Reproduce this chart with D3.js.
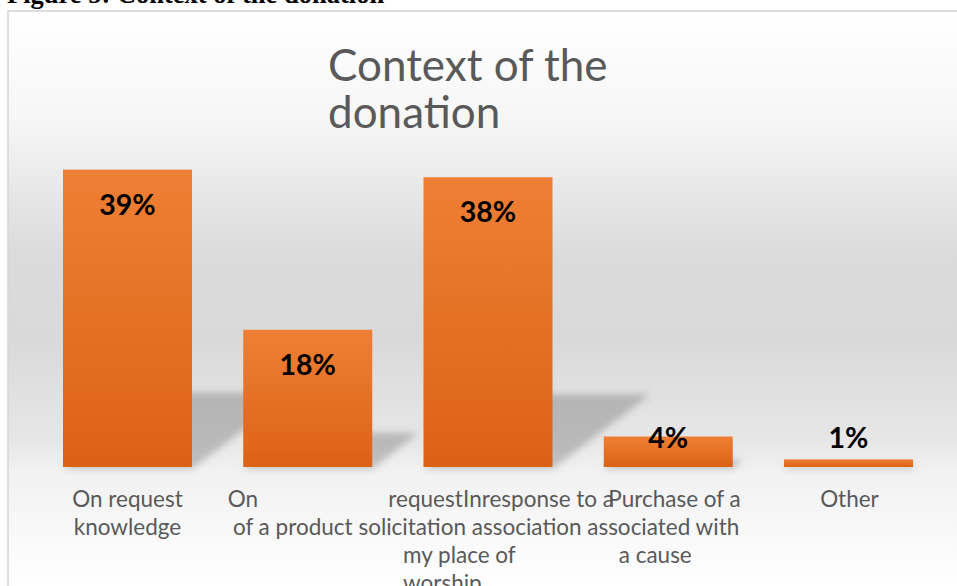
<!DOCTYPE html>
<html>
<head>
<meta charset="utf-8">
<script src="https://cdn.jsdelivr.net/npm/d3@7"></script>
<style>
  html, body { margin: 0; padding: 0; background: #ffffff; overflow: hidden; }
  svg { display: block; }
  text { white-space: pre; }
</style>
</head>
<body>
<svg id="chart" width="957" height="586"></svg>
<script>
// ---- data ----
const categories = ["On request knowledge", "On request of a product",
  "In response to a solicitation association my place of worship",
  "Purchase of a product associated with a cause", "Other"];
const values = [39, 18, 38, 4, 1];
const valueLabels = ["39%", "18%", "38%", "4%", "1%"];
const chartTitleLines = ["Context of the", "donation"];
const figureCaption = "Figure 5: Context of the donation";

// ---- category label pieces: category index, line, text ----
const labelPieces = [
  [0, 0, "On request"], [0, 1, "knowledge"],
  [1, 0, "On"], [1, 0, "request"], [1, 1, "of a product"],
  [2, 0, "Inresponse to a"], [2, 1, "solicitation association"],
  [2, 2, "my place of"], [2, 3, "worship"],
  [3, 0, "Purchase of a"], [3, 1, "associated with"], [3, 2, "a cause"],
  [4, 0, "Other"]
];
// placement of each piece relative to its band centre (anchor, dx)
const labelPlacement = [
  ["middle", 0], ["middle", 0],
  ["start", -80], ["end", 155], ["middle", -15],
  ["start", -25], ["middle", -18],
  ["start", -85], ["start", -85],
  ["start", -60], ["middle", -5], ["middle", -13],
  ["middle", 1]
];

const svg = d3.select("#chart");

const defs = svg.append("defs");

// chart area background: soft vertical grey gradient
const bg = defs.append("linearGradient").attr("id", "bgGrad")
  .attr("gradientUnits", "userSpaceOnUse")
  .attr("x1", 0).attr("y1", 11).attr("x2", 0).attr("y2", 586);
[[0, "#ffffff"], [0.19, "#f6f6f6"], [0.42, "#dbdbdb"], [0.57, "#d9d9d9"],
 [0.75, "#e7e7e7"], [0.80, "#f1f1f1"], [1, "#ffffff"]]
  .forEach(([o, c]) => bg.append("stop").attr("offset", o).attr("stop-color", c));

// bar fill gradient
const bf = defs.append("linearGradient").attr("id", "barGrad")
  .attr("x1", 0).attr("y1", 0).attr("x2", 0).attr("y2", 1);
bf.append("stop").attr("offset", 0).attr("stop-color", "#ef7f35");
bf.append("stop").attr("offset", 1).attr("stop-color", "#db6214");

// blur for cast shadows
defs.append("filter").attr("id", "shadowBlur")
  .attr("x", "-30%").attr("y", "-30%").attr("width", "160%").attr("height", "160%")
  .append("feGaussianBlur").attr("stdDeviation", 3.5);

// figure caption (partly above the page edge)
svg.append("text")
  .attr("x", 7).attr("y", 3)
  .attr("font-family", "'Liberation Serif', 'Times New Roman', serif")
  .attr("font-weight", "bold").attr("font-size", 26.5)
  .attr("fill", "#000")
  .text(figureCaption);

// chart frame
svg.append("rect")
  .attr("x", 8).attr("y", 11).attr("width", 1000).attr("height", 620)
  .attr("fill", "url(#bgGrad)")
  .attr("stroke", "#d6d6d6").attr("stroke-width", 1.6);

// scales
const x = d3.scaleBand().domain(categories)
  .range([37.4, 938.6]).paddingInner(0.2843).paddingOuter(0.142);
const y = d3.scaleLinear().domain([0, 40]).range([467, 162]);
const y0 = y(0);

// title
const title = svg.append("text")
  .attr("font-family", "Lato, 'Open Sans', sans-serif")
  .attr("font-size", 44).attr("fill", "#595959");
chartTitleLines.forEach((t, i) => {
  title.append("tspan").attr("x", 328).attr("y", 80.5 + i * 47).text(t);
});

const rows = categories.map((c, i) => ({ c, v: values[i], label: valueLabels[i] }));

// perspective shadows cast up and to the right of each bar
const k = 0.25, skew = 1.35;
svg.append("g").attr("filter", "url(#shadowBlur)")
  .selectAll("path").data(rows).join("path")
  .attr("d", d => {
    const x0 = x(d.c), x1 = x0 + x.bandwidth();
    const h = (y0 - y(d.v)) * k, dx = h * skew;
    return `M${x0},${y0 + 2}L${x1},${y0 + 2}L${x1 + dx},${y0 - h}L${x0 + dx},${y0 - h}Z`;
  })
  .attr("fill", "#000").attr("fill-opacity", 0.2);

// bars
svg.append("g").selectAll("rect").data(rows).join("rect")
  .attr("x", d => x(d.c))
  .attr("y", d => y(d.v))
  .attr("width", x.bandwidth())
  .attr("height", d => y0 - y(d.v))
  .attr("fill", "url(#barGrad)");

// value labels
svg.append("g").selectAll("text").data(rows).join("text")
  .attr("x", d => x(d.c) + x.bandwidth() / 2)
  .attr("y", d => Math.min(y(d.v) + 45, y0 - 19))
  .attr("text-anchor", "middle")
  .attr("font-family", "Lato, 'Open Sans', sans-serif")
  .attr("font-weight", "bold").attr("font-size", 28.5)
  .attr("fill", "#000")
  .text(d => d.label);

// category labels
const lineOffsets = [40, 67.5, 96, 124];
svg.append("g").selectAll("text").data(labelPieces).join("text")
  .attr("x", (p, i) => x(categories[p[0]]) + x.bandwidth() / 2 + labelPlacement[i][1])
  .attr("y", p => y0 + lineOffsets[p[1]])
  .attr("text-anchor", (p, i) => labelPlacement[i][0])
  .attr("font-family", "Lato, 'Open Sans', sans-serif")
  .attr("font-size", 22.5).attr("fill", "#595959")
  .text(p => p[2]);
</script>
</body>
</html>
